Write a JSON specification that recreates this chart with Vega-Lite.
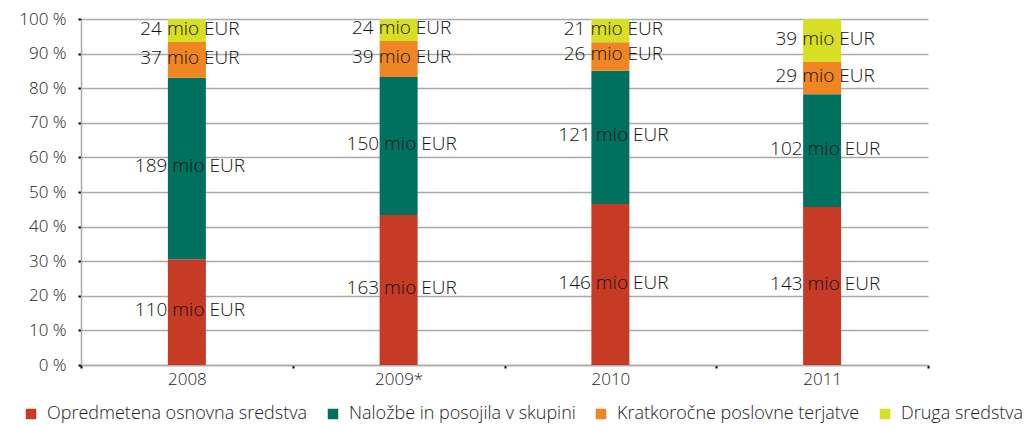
{
  "$schema": "https://vega.github.io/schema/vega-lite/v6.json",
  "width": 847,
  "height": 346,
  "autosize": {"type": "none"},
  "padding": {"left": 81, "top": 19, "right": 107, "bottom": 60},
  "background": "white",
  "config": {
    "font": "Open Sans",
    "view": {"stroke": null}
  },
  "data": {
    "values": [
      {"leto": "2008", "vrsta": "Opredmetena osnovna sredstva", "o": 1, "v": 110, "oznaka": "110 mio EUR"},
      {"leto": "2008", "vrsta": "Naložbe in posojila v skupini", "o": 2, "v": 189, "oznaka": "189 mio EUR"},
      {"leto": "2008", "vrsta": "Kratkoročne poslovne terjatve", "o": 3, "v": 37, "oznaka": "37 mio EUR"},
      {"leto": "2008", "vrsta": "Druga sredstva", "o": 4, "v": 24, "oznaka": "24 mio EUR"},
      {"leto": "2009*", "vrsta": "Opredmetena osnovna sredstva", "o": 1, "v": 163, "oznaka": "163 mio EUR"},
      {"leto": "2009*", "vrsta": "Naložbe in posojila v skupini", "o": 2, "v": 150, "oznaka": "150 mio EUR"},
      {"leto": "2009*", "vrsta": "Kratkoročne poslovne terjatve", "o": 3, "v": 39, "oznaka": "39 mio EUR"},
      {"leto": "2009*", "vrsta": "Druga sredstva", "o": 4, "v": 24, "oznaka": "24 mio EUR"},
      {"leto": "2010", "vrsta": "Opredmetena osnovna sredstva", "o": 1, "v": 146, "oznaka": "146 mio EUR"},
      {"leto": "2010", "vrsta": "Naložbe in posojila v skupini", "o": 2, "v": 121, "oznaka": "121 mio EUR"},
      {"leto": "2010", "vrsta": "Kratkoročne poslovne terjatve", "o": 3, "v": 26, "oznaka": "26 mio EUR"},
      {"leto": "2010", "vrsta": "Druga sredstva", "o": 4, "v": 21, "oznaka": "21 mio EUR"},
      {"leto": "2011", "vrsta": "Opredmetena osnovna sredstva", "o": 1, "v": 143, "oznaka": "143 mio EUR"},
      {"leto": "2011", "vrsta": "Naložbe in posojila v skupini", "o": 2, "v": 102, "oznaka": "102 mio EUR"},
      {"leto": "2011", "vrsta": "Kratkoročne poslovne terjatve", "o": 3, "v": 29, "oznaka": "29 mio EUR"},
      {"leto": "2011", "vrsta": "Druga sredstva", "o": 4, "v": 39, "oznaka": "39 mio EUR"}
    ]
  },
  "encoding": {
    "x": {
      "field": "leto",
      "type": "nominal",
      "sort": null,
      "title": null,
      "scale": {"paddingInner": 0, "paddingOuter": 0},
      "axis": {
        "labelAngle": 0,
        "labelFontWeight": 300,
        "labelFontSize": 17,
        "labelColor": "#222222",
        "labelPadding": 3,
        "tickBand": "extent",
        "tickSize": 3,
        "tickColor": "#000000",
        "tickWidth": 2,
        "domainColor": "#aaaaaa",
        "domainWidth": 1.5,
        "grid": false
      }
    }
  },
  "layer": [
    {
      "mark": {"type": "bar", "size": 38},
      "encoding": {
        "y": {
          "field": "v",
          "type": "quantitative",
          "stack": "normalize",
          "title": null,
          "scale": {"domain": [0, 1]},
          "axis": {
            "values": [0, 0.1, 0.2, 0.3, 0.4, 0.5, 0.6, 0.7, 0.8, 0.9, 1],
            "labelExpr": "format(datum.value * 100, 'd') + ' %'",
            "labelFontWeight": 300,
            "labelFontSize": 17,
            "labelColor": "#222222",
            "labelPadding": 12,
            "tickSize": 3,
            "tickColor": "#000000",
            "tickWidth": 2,
            "domainColor": "#aaaaaa",
            "domainWidth": 1.5,
            "gridColor": "#aaaaaa",
            "gridWidth": 1.5
          }
        },
        "order": {"field": "o", "type": "quantitative"},
        "color": {
          "field": "vrsta",
          "type": "nominal",
          "scale": {
            "domain": ["Opredmetena osnovna sredstva", "Naložbe in posojila v skupini", "Kratkoročne poslovne terjatve", "Druga sredstva"],
            "range": ["#c63b25", "#00715f", "#f08524", "#d6df22"]
          },
          "legend": {
            "orient": "none",
            "legendX": -59,
            "legendY": 386,
            "direction": "horizontal",
            "title": null,
            "symbolType": "square",
            "symbolSize": 110,
            "symbolStrokeWidth": 0,
            "labelFontWeight": 300,
            "labelFontSize": 18,
            "labelColor": "#222222",
            "labelOffset": 7,
            "columnPadding": 16,
            "labelLimit": 400
          }
        }
      }
    },
    {
      "transform": [
        {"stack": "v", "groupby": ["leto"], "sort": [{"field": "o"}], "offset": "normalize", "as": ["y0", "y1"]},
        {"fold": ["y0", "y1"], "as": ["kraj", "yy"]},
        {"aggregate": [{"op": "mean", "field": "yy", "as": "ysred"}], "groupby": ["leto", "vrsta", "oznaka"]}
      ],
      "mark": {"type": "text", "fontSize": 19, "fontWeight": 300, "color": "#111111", "baseline": "middle", "dx": 3, "dy": -2},
      "encoding": {
        "text": {"field": "oznaka", "type": "nominal"},
        "y": {
          "field": "ysred",
          "type": "quantitative",
          "title": null,
          "scale": {"domain": [0, 1]},
          "axis": {
            "values": [0, 0.1, 0.2, 0.3, 0.4, 0.5, 0.6, 0.7, 0.8, 0.9, 1],
            "labelExpr": "format(datum.value * 100, 'd') + ' %'",
            "labelFontWeight": 300,
            "labelFontSize": 17,
            "labelColor": "#222222",
            "labelPadding": 12,
            "tickSize": 3,
            "tickColor": "#000000",
            "tickWidth": 2,
            "domainColor": "#aaaaaa",
            "domainWidth": 1.5,
            "gridColor": "#aaaaaa",
            "gridWidth": 1.5
          }
        }
      }
    }
  ]
}
